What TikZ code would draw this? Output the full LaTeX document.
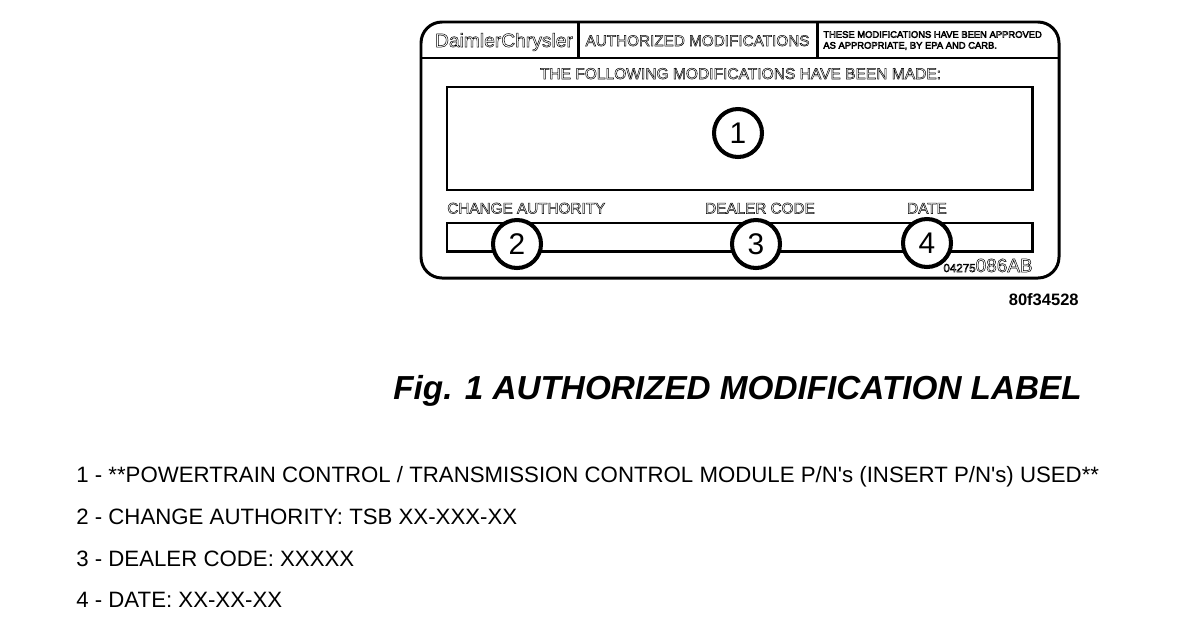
\documentclass[tikz,border=0pt]{standalone}
\usepackage{fontspec}
\setmainfont{Liberation Sans}
\newcommand{\hollow}[1]{\special{pdf:code q 1 Tr 0.28 w}#1\special{pdf:code Q}}
\tikzset{
  panel/.style={draw, line width=1.7pt},
  callout/.style={draw, circle, fill=white, line width=2.3pt, minimum size=0.96cm, inner sep=0pt, font=\fontsize{17}{17}\selectfont},
  plate/.style={inner sep=0pt, anchor=base, font=\fontsize{8.7}{9}\selectfont},
  legend/.style={anchor=base west, inner sep=0pt, font=\fontsize{12.65}{13}\selectfont}
}
\begin{document}
\begin{tikzpicture}[x=0.02cm, y=-0.02cm]
                \useasboundingbox (0,0) rectangle (1200,626);

                % Plate outline and its header
                \draw[panel, rounded corners=0.42cm] (421,22) rectangle (1059,278);
                \draw[panel] (421,58) -- (1059,58);
                \draw[panel] (578,22) -- (578,58);
                \draw[panel] (817,22) -- (817,58);

                % Boxes
                \draw[panel] (447,87) rectangle (1032,190);
                \draw[panel] (447,223) rectangle (1032,251);

                % Header texts
                \node[plate, font=\fontsize{10.95}{11}\selectfont] (maker) at (504,47) {\hollow{DaimlerChrysler}};
                \node[plate] (title) at (697.5,46) {\hollow{AUTHORIZED MODIFICATIONS}};
                \node[plate, anchor=west, align=left, font=\fontsize{5.35}{6.2}\selectfont] (notice) at (823,40.5)
                  {\hollow{THESE MODIFICATIONS HAVE BEEN APPROVED}\\\hollow{AS APPROPRIATE, BY EPA AND CARB.}};
                \node[plate, font=\fontsize{8.85}{9}\selectfont] (made) at (740.5,79) {\hollow{THE FOLLOWING MODIFICATIONS HAVE BEEN MADE:}};

                % Field captions
                \node[plate, anchor=base west] (authority) at (447,213.5) {\hollow{CHANGE AUTHORITY}};
                \node[plate] (dealer) at (760,213.5) {\hollow{DEALER CODE}};
                \node[plate] (date) at (927,213.5) {\hollow{DATE}};

                % Part number on the plate
                \node[plate, anchor=base east] (partno) at (1033,272) {\hollow{{\fontsize{6.6}{7}\selectfont 04275}{\fontsize{10.8}{11}\selectfont 086AB}}};

                % Callouts
                \node[callout] (one) at (738,133) {1};
                \node[callout] (two) at (517,244) {2};
                \node[callout] (three) at (756,244) {3};
                \node[callout] (four) at (927,243) {4};

                % Texts below the plate
                \node[anchor=base east, inner sep=0pt, font=\bfseries\fontsize{9.4}{10}\selectfont] (ref) at (1079,305) {80f34528};
                \node[anchor=base east, inner sep=0pt, font=\bfseries\itshape\fontsize{18.94}{19}\selectfont] (caption) at (1082,399) {Fig. 1 AUTHORIZED MODIFICATION LABEL};
                \node[legend] (item1) at (76,482) {1 - **POWERTRAIN CONTROL / TRANSMISSION CONTROL MODULE P/N\textquotesingle s (INSERT P/N\textquotesingle s) USED**};
                \node[legend] (item2) at (76,524) {2 - CHANGE AUTHORITY: TSB XX-XXX-XX};
                \node[legend] (item3) at (76,566) {3 - DEALER CODE: XXXXX};
                \node[legend] (item4) at (76,607) {4 - DATE: XX-XX-XX};
\end{tikzpicture}
\end{document}
